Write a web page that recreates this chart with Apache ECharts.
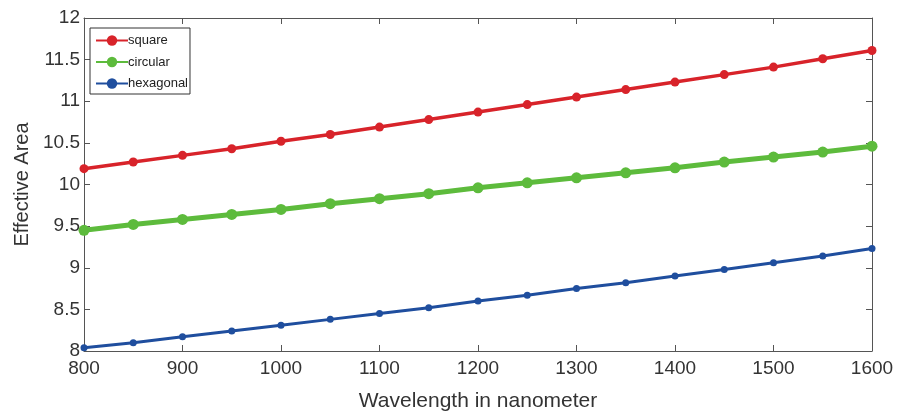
<!DOCTYPE html>
<html><head><meta charset="utf-8">
<script src="https://cdn.jsdelivr.net/npm/echarts@6/dist/echarts.min.js"></script>
<style>html,body{margin:0;padding:0;background:#fff}#c{width:903px;height:417px}</style>
</head><body><div id="c"></div>
<script>
const wavelengths = [800,850,900,950,1000,1050,1100,1150,1200,1250,1300,1350,1400,1450,1500,1550,1600];
const square = [10.19,10.27,10.35,10.43,10.52,10.60,10.69,10.78,10.87,10.96,11.05,11.14,11.23,11.32,11.41,11.51,11.61];
const circular = [9.45,9.52,9.58,9.64,9.70,9.77,9.83,9.89,9.96,10.02,10.08,10.14,10.20,10.27,10.33,10.39,10.46];
const hexagonal = [8.04,8.10,8.17,8.24,8.31,8.38,8.45,8.52,8.60,8.67,8.75,8.82,8.90,8.98,9.06,9.14,9.23];
const xTicks = [800,900,1000,1100,1200,1300,1400,1500,1600];
const yTicks = [8,8.5,9,9.5,10,10.5,11,11.5,12];

const pairs = ys => wavelengths.map((x,i)=>[x,ys[i]]);
const font = 'Liberation Sans, Arial, sans-serif';
const axisLine = {show:true, lineStyle:{color:'#555', width:1}};
const tickIn = {show:true, inside:true, length:6, lineStyle:{color:'#555'}};

const chart = echarts.init(document.getElementById('c'));
chart.setOption({
  animation:false,
  grid:{left:84, right:31, top:18, bottom:66},
  legend:{
    orient:'vertical', left:90, top:28, itemGap:8.5, itemWidth:32, itemHeight:13,
    padding:[6,2,4,5], borderColor:'#333', borderWidth:1, backgroundColor:'#fff',
    textStyle:{fontFamily:font, fontSize:13, color:'#222', padding:[0,0,0,-5]},
    data:['square','circular','hexagonal']
  },
  xAxis:[{
    type:'value', min:800, max:1600, interval:100,
    name:'Wavelength in nanometer', nameLocation:'middle', nameGap:40,
    nameTextStyle:{fontFamily:font, fontSize:21, color:'#333'},
    axisLine, axisTick:tickIn, splitLine:{show:false},
    axisLabel:{fontFamily:font, fontSize:19, color:'#333', margin:8,
      formatter:v=>xTicks.includes(v)?String(v):''}
  },{
    type:'value', position:'top', min:800, max:1600, interval:100,
    axisLine, axisTick:tickIn, axisLabel:{show:false}, splitLine:{show:false}
  }],
  yAxis:[{
    type:'value', min:8, max:12, interval:0.5,
    name:'Effective Area', nameLocation:'middle', nameGap:51,
    nameTextStyle:{fontFamily:font, fontSize:20, color:'#333'},
    axisLine, axisTick:tickIn, splitLine:{show:false},
    axisLabel:{fontFamily:font, fontSize:19, color:'#333', margin:4,
      formatter:v=>yTicks.includes(v)?String(v):''}
  },{
    type:'value', position:'right', min:8, max:12, interval:0.5,
    axisLine, axisTick:tickIn, axisLabel:{show:false}, splitLine:{show:false}
  }],
  series:[
    {name:'square', type:'line', data:pairs(square), symbol:'circle', symbolSize:9,
     lineStyle:{color:'#d8232a', width:3.5}, itemStyle:{color:'#d8232a'}},
    {name:'circular', type:'line', data:pairs(circular), symbol:'circle', symbolSize:11,
     lineStyle:{color:'#5dbb3c', width:5}, itemStyle:{color:'#5dbb3c'}},
    {name:'hexagonal', type:'line', data:pairs(hexagonal), symbol:'circle', symbolSize:7,
     lineStyle:{color:'#1f4e9e', width:3}, itemStyle:{color:'#1f4e9e'}}
  ]
});
</script></body></html>
